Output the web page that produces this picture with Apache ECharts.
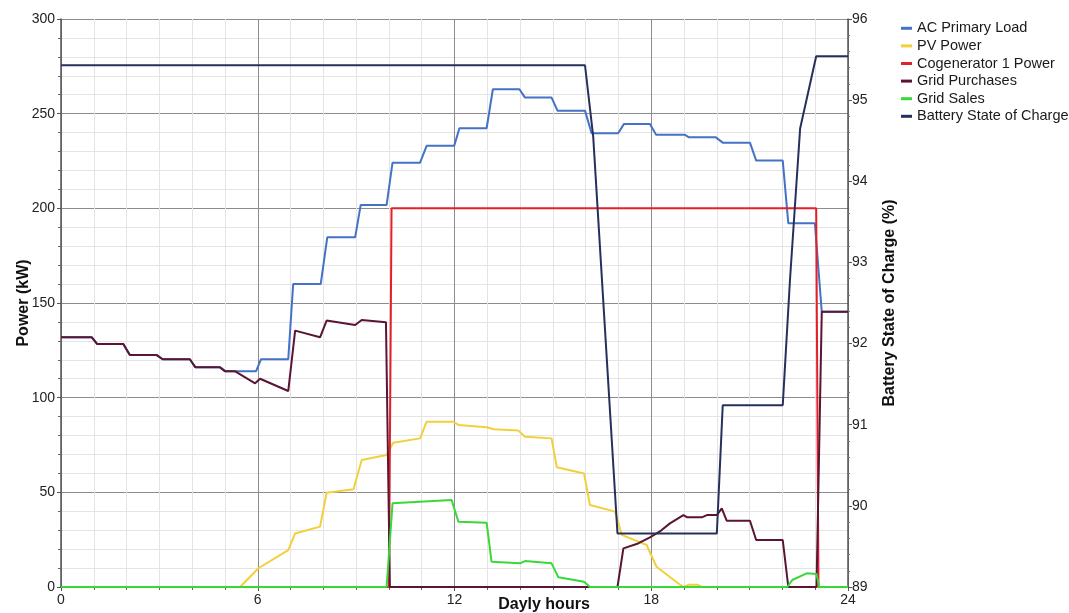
<!DOCTYPE html>
<html>
<head>
<meta charset="utf-8">
<script src="https://cdn.jsdelivr.net/npm/echarts@6/dist/echarts.min.js"></script>
<style>
html,body{margin:0;padding:0;background:#fff;}
#chart{width:1069px;height:613px;}
</style>
</head>
<body>
<div id="chart"></div>
<script>
const seriesNames = ['AC Primary Load', 'PV Power', 'Cogenerator 1 Power', 'Grid Purchases', 'Grid Sales', 'Battery State of Charge'];
const seriesColors = ['#4472c4', '#f2d03c', '#e3202a', '#5a1434', '#39d83a', '#26305c'];

const loadData = [[0,131.9],[0.94,131.9],[1.1,128.4],[1.9,128.4],[2.1,122.5],[2.92,122.5],[3.1,120.3],[3.93,120.3],[4.1,116],[4.85,116],[5.0,114],[5.95,114],[6.1,120.3],[6.93,120.3],[7.08,160],[7.92,160],[8.12,184.7],[8.97,184.7],[9.14,201.8],[9.93,201.8],[10.11,224.1],[10.95,224.1],[11.15,233],[11.99,233],[12.15,242.3],[12.98,242.3],[13.17,262.9],[13.98,262.9],[14.15,258.5],[14.96,258.5],[15.14,251.6],[15.98,251.6],[16.18,239.7],[16.99,239.7],[17.17,244.6],[17.96,244.6],[18.15,238.8],[19.03,238.8],[19.15,237.5],[19.97,237.5],[20.18,234.7],[21.01,234.7],[21.2,225.2],[22.01,225.2],[22.18,192.1],[22.99,192.1],[23.2,145.4],[24,145.4]];

const pvData = [[0,0],[5.46,0],[6.02,9.9],[6.93,19.5],[7.14,28.3],[7.9,31.9],[8.1,49.8],[8.92,51.6],[9.17,67.1],[9.93,69.7],[10.13,76.2],[10.95,78.5],[11.15,87.3],[11.97,87.3],[12.12,85.6],[12.98,84.4],[13.2,83.3],[13.95,82.6],[14.15,79.4],[14.96,78.5],[15.12,63.2],[15.95,60],[16.13,43.3],[16.9,39.8],[17.1,27.5],[17.86,22.2],[18.16,10.7],[18.82,2],[18.98,0],[19.15,1.2],[19.4,1.2],[19.55,0],[24,0]];

const cogenData = [[0,0],[10.0,0],[10.08,200],[23.03,200],[23.1,0],[24,0]];

const purchasesData = [[0,131.9],[0.94,131.9],[1.1,128.4],[1.9,128.4],[2.1,122.5],[2.92,122.5],[3.1,120.3],[3.93,120.3],[4.1,116],[4.85,116],[5.0,114],[5.3,114],[5.92,107.6],[6.07,110],[6.93,103.5],[7.14,135.4],[7.9,131.9],[8.1,140.7],[8.97,138.4],[9.17,141],[9.91,139.8],[10.03,0],[16.97,0],[17.15,20.4],[17.6,23],[17.96,26.2],[18.3,29.8],[18.57,33.6],[18.98,38],[19.1,36.8],[19.54,36.8],[19.7,38],[20.0,38],[20.15,41.5],[20.3,35],[21.01,35],[21.2,24.8],[22.01,24.8],[22.18,0],[23.04,0],[23.2,145.4],[24,145.4]];

const salesData = [[0,0],[9.93,0],[10.11,44.2],[11.91,46],[12.12,34.5],[12.98,34],[13.13,13.4],[14.0,12.5],[14.15,13.7],[14.96,12.5],[15.17,5.1],[15.95,2.8],[16.13,0],[22.15,0],[22.3,3.7],[22.74,7.2],[23.04,6.9],[23.12,0],[24,0]];

const socData = [[0,95.43],[15.98,95.43],[16.23,94.55],[16.97,89.66],[20.0,89.66],[20.18,91.24],[22.01,91.24],[22.23,92.78],[22.54,94.65],[23.03,95.54],[24,95.54]];

const allData = [loadData, pvData, cogenData, purchasesData, salesData, socData];

const FONT = "'Liberation Sans', Arial, sans-serif";
const chart = echarts.init(document.getElementById('chart'), null, {renderer: 'canvas'});

const series = seriesNames.map((name, i) => ({
  name: name,
  type: 'line',
  data: allData[i],
  yAxisIndex: i === 5 ? 1 : 0,
  showSymbol: false,
  symbol: 'none',
  animation: false,
  color: seriesColors[i],
  lineStyle: {color: seriesColors[i], width: 2},
  z: 2 + i
}));

chart.setOption({
  animation: false,
  backgroundColor: '#ffffff',
  grid: {left: 61, right: 221, top: 19, bottom: 26, containLabel: false, outerBoundsMode: 'none'},
  legend: {
    orient: 'vertical',
    left: 901,
    top: 19.5,
    padding: 0,
    icon: 'rect',
    itemWidth: 11,
    itemHeight: 3,
    itemGap: 0,
    data: seriesNames,
    textStyle: {fontFamily: FONT, fontSize: 14.5, color: '#1a1a1a', lineHeight: 17.6}
  },
  xAxis: {
    type: 'value',
    min: 0, max: 24, interval: 6,
    axisLine: {show: true, onZero: false, lineStyle: {color: '#555', width: 1.5}},
    axisTick: {show: true, length: 4, lineStyle: {color: '#555'}},
    minorTick: {show: true, splitNumber: 6, length: 3, lineStyle: {color: '#666'}},
    axisLabel: {fontFamily: FONT, fontSize: 14, color: '#222', margin: 6},
    splitLine: {show: true, lineStyle: {color: '#8c8c8c', width: 1}},
    minorSplitLine: {show: true, lineStyle: {color: '#e4e4e4', width: 1}}
  },
  yAxis: [
    {
      type: 'value',
      min: 0, max: 300, interval: 50,
      name: 'Power (kW)',
      nameLocation: 'middle',
      nameGap: 29,
      nameMoveOverlap: false,
      nameTextStyle: {fontFamily: FONT, fontSize: 16, fontWeight: 'bold', color: '#111'},
      axisLine: {show: true, lineStyle: {color: '#555', width: 1.5}},
      axisTick: {show: true, length: 4, lineStyle: {color: '#555'}},
      minorTick: {show: true, splitNumber: 5, length: 3, lineStyle: {color: '#666'}},
      axisLabel: {fontFamily: FONT, fontSize: 14, color: '#222', margin: 6},
      splitLine: {show: true, lineStyle: {color: '#8c8c8c', width: 1}},
      minorSplitLine: {show: true, lineStyle: {color: '#e4e4e4', width: 1}}
    },
    {
      type: 'value',
      min: 89, max: 96, interval: 1,
      position: 'right',
      name: 'Battery State of Charge (%)',
      nameLocation: 'middle',
      nameGap: 34,
      nameMoveOverlap: false,
      nameTextStyle: {fontFamily: FONT, fontSize: 16, fontWeight: 'bold', color: '#111'},
      axisLine: {show: true, lineStyle: {color: '#555', width: 1.5}},
      axisTick: {show: true, length: 4, lineStyle: {color: '#555'}},
      minorTick: {show: true, splitNumber: 5, length: 2, lineStyle: {color: '#777'}},
      axisLabel: {fontFamily: FONT, fontSize: 14, color: '#222', margin: 4},
      splitLine: {show: false},
      minorSplitLine: {show: false}
    }
  ],
  graphic: [{
    type: 'text',
    x: 544,
    y: 605,
    style: {
      text: 'Dayly hours',
      align: 'center', verticalAlign: 'middle',
      textAlign: 'center', textVerticalAlign: 'middle',
      font: "bold 16px 'Liberation Sans', Arial, sans-serif",
      fill: '#111'
    }
  }],
  series: series
});
</script>
</body>
</html>
